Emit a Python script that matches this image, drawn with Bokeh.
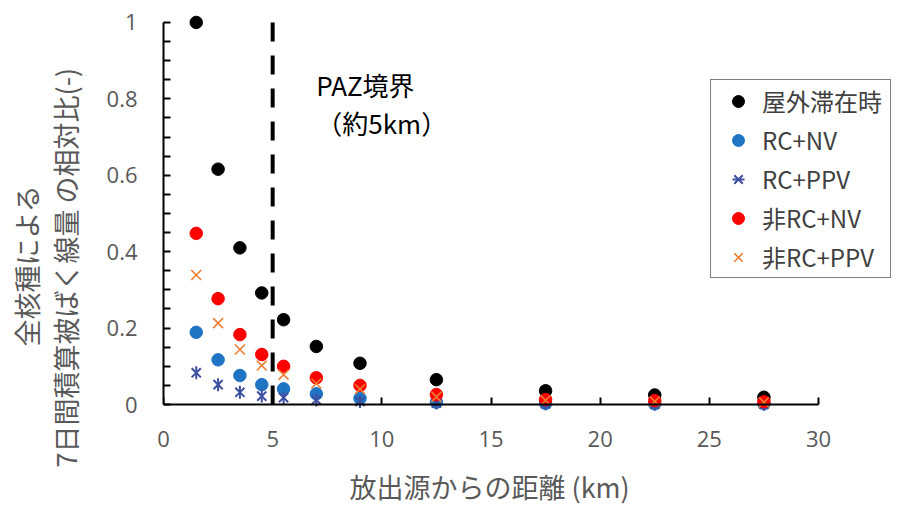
from math import pi
from bokeh.plotting import figure
from bokeh.models import (Range1d, FixedTicker, Label, Legend, LegendItem,
                          LinearAxis, Title)
from bokeh.embed import file_html
from bokeh.resources import INLINE

# ---- data ----
distance_km = [1.5, 2.5, 3.5, 4.5, 5.5, 7, 9, 12.5, 17.5, 22.5, 27.5]
outdoor   = [1.000, 0.616, 0.410, 0.292, 0.222, 0.152, 0.108, 0.065, 0.036, 0.025, 0.019]
rc_nv     = [0.189, 0.117, 0.076, 0.052, 0.041, 0.028, 0.016, 0.006, 0.003, 0.002, 0.002]
rc_ppv    = [0.083, 0.052, 0.032, 0.022, 0.018, 0.012, 0.008, 0.004, 0.002, 0.001, 0.001]
nonrc_nv  = [0.448, 0.277, 0.183, 0.131, 0.100, 0.070, 0.050, 0.026, 0.013, 0.010, 0.007]
nonrc_ppv = [0.339, 0.213, 0.144, 0.102, 0.078, 0.055, 0.040, 0.020, 0.011, 0.008, 0.006]

series_names = ["屋外滞在時", "RC+NV", "RC+PPV", "非RC+NV", "非RC+PPV"]
paz_boundary_km = 5
y_min, y_max = 0, 1
x_min, x_max = 0, 30
x_ticks = [0, 5, 10, 15, 20, 25, 30]
y_ticks = [0, 0.2, 0.4, 0.6, 0.8, 1.0]
y_tick_labels = ["0", "0.2", "0.4", "0.6", "0.8", "1"]
y_minor_ticks = [0.05, 0.1, 0.15, 0.25, 0.3, 0.35, 0.45, 0.5, 0.55,
                 0.65, 0.7, 0.75, 0.85, 0.9, 0.95]
x_title = "放出源からの距離 (km)"
y_title_1 = "全核種による"
y_title_2 = "7日間積算被ばく線量 の相対比(-)"
paz_text_1 = "PAZ境界"
paz_text_2 = "（約5km）"

JP = "Noto Sans CJK JP"
NUM = "Open Sans"
GRAY = "#595959"

# ---- layout (pixels) ----
W, H = 905, 505
FRAME_LEFT, FRAME_TOP, FRAME_BOTTOM = 163, 0, 412
PX_X = 655 / 30.0      # pixels per km
PX_Y = 383.0           # pixels per unit of relative ratio
Y0_PIX = 405           # page y of value 0

p = figure(width=W, height=H, output_backend="svg", toolbar_location=None,
           x_range=Range1d(x_min, x_min + (W - FRAME_LEFT) / PX_X),
           y_range=Range1d(y_min - (FRAME_BOTTOM - Y0_PIX) / PX_Y,
                           y_min + (Y0_PIX - FRAME_TOP) / PX_Y),
           min_border_left=FRAME_LEFT, min_border_right=0,
           min_border_top=FRAME_TOP, min_border_bottom=H - FRAME_BOTTOM)
p.outline_line_color = None
p.grid.visible = False
p.background_fill_color = "white"
p.border_fill_color = "white"

# x axis: tick labels only (at the frame bottom)
xa = p.xaxis[0]
xa.bounds = (x_min, x_max)
xa.ticker = FixedTicker(ticks=x_ticks)
xa.axis_line_color = None
xa.major_tick_line_color = None
xa.minor_tick_line_color = None
xa.major_tick_in = 0
xa.major_tick_out = 0
xa.major_label_text_font = NUM
xa.major_label_text_font_size = "22px"
xa.major_label_text_color = GRAY
xa.major_label_standoff = 19

# x axis: line and ticks at y = 0
xl = LinearAxis(fixed_location=0, bounds=(x_min, x_max),
                ticker=FixedTicker(ticks=x_ticks))
xl.axis_line_color = "black"
xl.axis_line_width = 2
xl.major_tick_line_color = "black"
xl.major_tick_line_width = 2
xl.major_tick_in = 7
xl.major_tick_out = 0
xl.minor_tick_line_color = None
xl.major_label_text_font_size = "1px"
xl.major_label_text_color = None
xl.major_label_standoff = 0
p.add_layout(xl, "below")

# y axis
ya = p.yaxis[0]
ya.bounds = (y_min, y_max)
ya.ticker = FixedTicker(ticks=y_ticks, minor_ticks=y_minor_ticks)
ya.major_label_overrides = {t: s for t, s in zip(y_ticks, y_tick_labels)}
ya.axis_line_color = "black"
ya.axis_line_width = 2
ya.major_tick_line_color = "black"
ya.major_tick_line_width = 2
ya.major_tick_in = 7
ya.major_tick_out = 0
ya.minor_tick_line_color = "black"
ya.minor_tick_line_width = 2
ya.minor_tick_in = 7
ya.minor_tick_out = 0
ya.major_label_text_font = NUM
ya.major_label_text_font_size = "22px"
ya.major_label_text_color = GRAY
ya.major_label_standoff = 26

# PAZ boundary dashed line
p.segment(x0=[paz_boundary_km], y0=[y_max], x1=[paz_boundary_km], y1=[y_min],
          line_color="black", line_width=4, line_dash="19 14", line_cap="butt")

# series
r_out = p.scatter(distance_km, outdoor, marker="circle", size=12.5,
                  fill_color="black", line_color="black")
r_rcnv = p.scatter(distance_km, rc_nv, marker="circle", size=12.5,
                   fill_color="#1F74C4", line_color="#1F74C4")
r_rcppv_x = p.scatter(distance_km, rc_ppv, marker="x", size=13,
                      line_color="#3F4FA0", line_width=2)
r_rcppv_v = p.scatter(distance_km, rc_ppv, marker="dash", size=13, angle=pi / 2,
                      line_color="#3F4FA0", line_width=2)
r_nrnv = p.scatter(distance_km, nonrc_nv, marker="circle", size=12.5,
                   fill_color="#FF0000", line_color="#FF0000")
r_nrppv = p.scatter(distance_km, nonrc_ppv, marker="x", size=14,
                    line_color="#ED7D31", line_width=1.6)

# legend (location = bottom-left corner, frame-relative pixels)
legend = Legend(items=[
    LegendItem(label=series_names[0], renderers=[r_out]),
    LegendItem(label=series_names[1], renderers=[r_rcnv]),
    LegendItem(label=series_names[2], renderers=[r_rcppv_x, r_rcppv_v]),
    LegendItem(label=series_names[3], renderers=[r_nrnv]),
    LegendItem(label=series_names[4], renderers=[r_nrppv]),
], location=(710 - FRAME_LEFT, FRAME_BOTTOM - 279))
legend.border_line_color = "black"
legend.border_line_width = 1
legend.background_fill_color = "white"
legend.background_fill_alpha = 1
legend.label_text_font = JP
legend.label_text_font_size = "24px"
legend.label_text_color = "#404040"
legend.label_height = 30
legend.glyph_height = 30
legend.glyph_width = 48
legend.label_standoff = -9
legend.label_width = 125
legend.padding = 3
legend.spacing = 4
legend.margin = 0
p.add_layout(legend, "center")

# annotation text near the boundary line
p.add_layout(Label(x=7.0, y=0.837, text=paz_text_1, text_font=JP,
                   text_font_size="26px", text_color="black",
                   text_align="left", text_baseline="middle"))
p.add_layout(Label(x=7.0, y=0.739, text=paz_text_2, text_font=JP,
                   text_font_size="26px", text_color="black",
                   text_align="left", text_baseline="middle"))

# axis titles (side panels)
def side_title(text, size, offset, valign="bottom", standoff=0):
    return Title(text=text, align="left", offset=offset, vertical_align=valign,
                 standoff=standoff, text_font=JP, text_font_size=size,
                 text_font_style="normal", text_color=GRAY)

def spacer(px):
    return Title(text=" ", text_font_size="1px", standoff=px)

p.add_layout(spacer(14), "left")
p.add_layout(side_title(y_title_2, "27px", FRAME_BOTTOM - 468, "top"), "left")
p.add_layout(side_title(y_title_1, "27px", FRAME_BOTTOM - 347, "bottom"), "left")
p.add_layout(spacer(12), "below")
p.add_layout(side_title(x_title, "27px", 186, "bottom", 0), "below")

open("out.html", "w").write(file_html(p, INLINE))
